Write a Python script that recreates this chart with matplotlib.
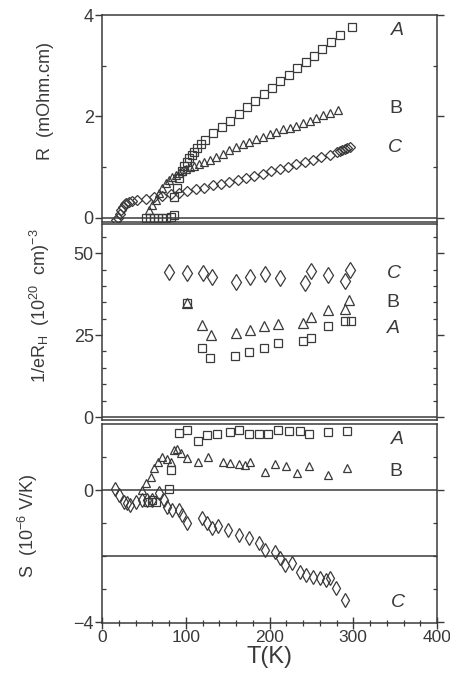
import numpy as np
import matplotlib.pyplot as plt
from matplotlib.ticker import MultipleLocator, FixedLocator

plt.rcParams['font.family'] = ['Liberation Sans', 'DejaVu Sans']
plt.rcParams['mathtext.default'] = 'regular'

INK = '#3a3a3a'

# ---- panel 1: resistivity R (mOhm.cm) vs T(K)
T_R_A = [52, 57, 62, 67, 72, 77, 82, 86, 86, 89, 92, 95, 98, 101, 104, 107, 110, 114, 118, 123,
         133, 143, 153, 163, 173, 183, 193, 203, 213, 223, 233, 243, 253, 263, 273, 284, 299]
R_A = [0.0, 0.0, 0.0, 0.0, 0.0, 0.0, 0.02, 0.05, 0.42, 0.6, 0.78, 0.92, 1.02, 1.1, 1.18, 1.25, 1.3, 1.37, 1.45, 1.54,
       1.67, 1.8, 1.92, 2.05, 2.18, 2.31, 2.44, 2.56, 2.69, 2.82, 2.95, 3.07, 3.2, 3.33, 3.46, 3.6, 3.77]

T_R_B = [56, 60, 64, 68, 72, 76, 80, 84, 88, 92, 96, 100, 105, 110, 116, 122, 129, 136, 144, 152,
         160, 168, 176, 184, 192, 200, 208, 216, 224, 232, 240, 248, 256, 264, 272, 282]
R_B = [0.16, 0.25, 0.35, 0.5, 0.6, 0.68, 0.74, 0.8, 0.85, 0.89, 0.93, 0.96, 1.0, 1.03, 1.07, 1.11, 1.15, 1.2, 1.26, 1.33,
       1.4, 1.46, 1.5, 1.55, 1.6, 1.65, 1.7, 1.75, 1.78, 1.82, 1.87, 1.92, 1.97, 2.02, 2.07, 2.13]

T_R_C = [17, 19, 21, 23, 25, 27, 29, 32, 36, 42, 52, 62, 72, 82, 92, 102, 112, 122, 132, 142, 152, 162,
         172, 182, 192, 202, 212, 222, 232, 242, 252, 262, 272, 280, 284, 287, 290, 293, 296]
R_C = [-0.05, 0.0, 0.08, 0.15, 0.22, 0.27, 0.3, 0.32, 0.33, 0.35, 0.38, 0.41, 0.44, 0.47, 0.5, 0.53, 0.57, 0.6, 0.64,
       0.67, 0.71, 0.75, 0.79, 0.83, 0.87, 0.92, 0.96, 1.01, 1.06, 1.1, 1.15, 1.2, 1.25, 1.29, 1.31, 1.33, 1.35, 1.37, 1.39]

# ---- panel 2: 1/eR_H (10^20 cm^-3)
T_H_A = [102, 119, 129, 159, 176, 194, 210, 240, 250, 270, 290, 297]
H_A = [34.7, 21.1, 17.9, 18.7, 19.7, 21.1, 22.5, 23.3, 24.0, 27.8, 29.4, 29.4]

T_H_B = [102, 119, 130, 160, 177, 194, 210, 240, 250, 270, 290, 295]
H_B = [34.7, 28.1, 25.0, 25.5, 26.5, 27.8, 28.4, 28.8, 30.4, 32.6, 33.1, 35.7]

T_H_C = [80, 102, 121, 131, 160, 177, 195, 212, 242, 250, 270, 290, 296]
H_C = [44.3, 43.8, 43.8, 42.6, 41.3, 42.6, 43.6, 42.3, 41.0, 44.6, 43.3, 41.6, 44.8]

# ---- panel 3: thermopower S (10^-6 V/K)
T_S_A = [55, 60, 64, 80, 82, 92, 101, 115, 125, 137, 153, 164, 176, 187, 198, 210, 223, 236, 247, 270, 292]
S_A = [-0.35, -0.3, -0.35, 0.02, 0.61, 1.72, 1.82, 1.49, 1.67, 1.70, 1.77, 1.82, 1.70, 1.70, 1.70, 1.82, 1.80,
       1.80, 1.70, 1.77, 1.80]

T_S_B = [48, 52, 58, 62, 67, 72, 78, 82, 86, 90, 94, 102, 115, 127, 144, 153, 164, 171, 177, 195, 207, 220,
         233, 247, 270, 292]
S_B = [0.0, 0.2, 0.4, 0.66, 0.86, 1.0, 0.93, 0.86, 1.21, 1.24, 1.11, 0.96, 0.86, 0.99, 0.86, 0.83, 0.80, 0.76,
       0.86, 0.55, 0.79, 0.73, 0.52, 0.73, 0.45, 0.66]

T_S_C = [15, 20, 26, 30, 34, 40, 48, 54, 60, 68, 74, 78, 84, 92, 96, 102, 119, 125, 131, 138, 151, 163, 175,
         187, 195, 207, 213, 219, 227, 237, 244, 252, 260, 267, 272, 279, 290]
S_C = [0.02, -0.15, -0.35, -0.4, -0.45, -0.35, -0.3, -0.3, -0.3, -0.1, -0.3, -0.5, -0.6, -0.6, -0.76, -1.0,
       -0.86, -1.0, -1.16, -1.1, -1.21, -1.36, -1.46, -1.62, -1.82, -1.87, -2.07, -2.27, -2.22, -2.47, -2.58,
       -2.63, -2.68, -2.73, -2.68, -2.98, -3.33]

# curve labels (text, T position, value)
labels_R = [('A', 345, 3.7), ('B', 343, 2.15), ('C', 341, 1.38)]
labels_H = [('C', 340, 43.9), ('B', 340, 34.8), ('A', 340, 27.1)]
labels_S = [('A', 345, 1.52), ('B', 343, 0.55), ('C', 345, -3.4)]

mk = dict(linestyle='none', markerfacecolor='none', markeredgecolor=INK, markeredgewidth=0.9)

W, H = 450, 675
left, right = 102, 437


def px_axes(top, bottom):
    return fig.add_axes([left / W, 1 - bottom / H, (right - left) / W, (bottom - top) / H])


def style_axes(ax):
    for sp in ax.spines.values():
        sp.set_color(INK)
        sp.set_linewidth(1.1)
    ax.set_xlim(0, 400)
    ax.tick_params(axis='y', which='major', direction='out', length=5, width=1, colors=INK,
                   labelsize=13, pad=1, right=True)
    ax.tick_params(axis='y', which='minor', direction='in', length=3, width=0.9, colors=INK, right=True)
    ax.tick_params(axis='x', which='both', bottom=False, labelbottom=False)


def put_labels(ax, labels):
    for txt, x, y in labels:
        ax.text(x, y, txt, fontsize=14, color=INK, ha='left', va='center',
                style='italic' if txt != 'B' else 'normal')


fig = plt.figure(figsize=(W / 100, H / 100), dpi=100)

# top panel
ax1 = px_axes(15, 222)
style_axes(ax1)
ax1.plot(T_R_A, R_A, marker='s', markersize=5.5, **mk)
ax1.plot(T_R_B, R_B, marker='^', markersize=6, **mk)
ax1.plot(T_R_C, R_C, marker='D', markersize=5.5, **mk)
ax1.axhline(0, color=INK, lw=1.1)
ax1.set_ylim(-0.08, 4)
ax1.yaxis.set_major_locator(FixedLocator([0, 2, 4]))
ax1.yaxis.set_minor_locator(FixedLocator([1, 3]))
put_labels(ax1, labels_R)

# middle panel
ax2 = px_axes(224, 420)
style_axes(ax2)
ax2.plot(T_H_A, H_A, marker='s', markersize=6, **mk)
ax2.plot(T_H_B, H_B, marker='^', markersize=6.5, **mk)
ax2.plot(T_H_C, H_C, marker='d', markersize=8, **mk)
ax2.axhline(0, color=INK, lw=1.1)
ax2.set_ylim(-0.9, 58.9)
ax2.yaxis.set_major_locator(FixedLocator([0, 25, 50]))
ax2.yaxis.set_minor_locator(MultipleLocator(5))
put_labels(ax2, labels_H)

# bottom panel
ax3 = px_axes(424, 623)
style_axes(ax3)
ax3.plot(T_S_A, S_A, marker='s', markersize=5.5, **mk)
ax3.plot(T_S_B, S_B, marker='^', markersize=6, **mk)
ax3.plot(T_S_C, S_C, marker='d', markersize=7, **mk)
ax3.axhline(0, color=INK, lw=1.1)
ax3.axhline(-2, color=INK, lw=1.1)
ax3.set_ylim(-4.03, 2.0)
ax3.yaxis.set_major_locator(FixedLocator([-4, 0]))
ax3.yaxis.set_minor_locator(FixedLocator([-3, -2, -1, 1]))
ax3.set_yticklabels(['\u22124', '0'])
ax3.xaxis.set_major_locator(MultipleLocator(100))
ax3.xaxis.set_minor_locator(MultipleLocator(20))
ax3.tick_params(axis='x', which='major', bottom=True, top=False, labelbottom=True, direction='inout',
                length=8, width=1, colors=INK, labelsize=12.5, pad=1)
ax3.tick_params(axis='x', which='minor', bottom=True, direction='inout', length=5, width=0.9, colors=INK)
put_labels(ax3, labels_S)

ax3.set_xlabel('T(K)', fontsize=17, color=INK, labelpad=1)

# y labels placed by hand like in the scan
fig.text(46 / W, 1 - 101 / H, 'R  (mOhm.cm)', rotation=90, ha='center', va='center',
         fontsize=13, color=INK)
fig.text(40 / W, 1 - 306 / H, r'1/eR$_{H}$  (10$^{20}$  cm)$^{-3}$', rotation=90, ha='center', va='center',
         fontsize=13, color=INK)
fig.text(28 / W, 1 - 526 / H, r'S  (10$^{-6}$ V/K)', rotation=90, ha='center', va='center',
         fontsize=13, color=INK)

fig.savefig('out.png', dpi=100, facecolor='white')
